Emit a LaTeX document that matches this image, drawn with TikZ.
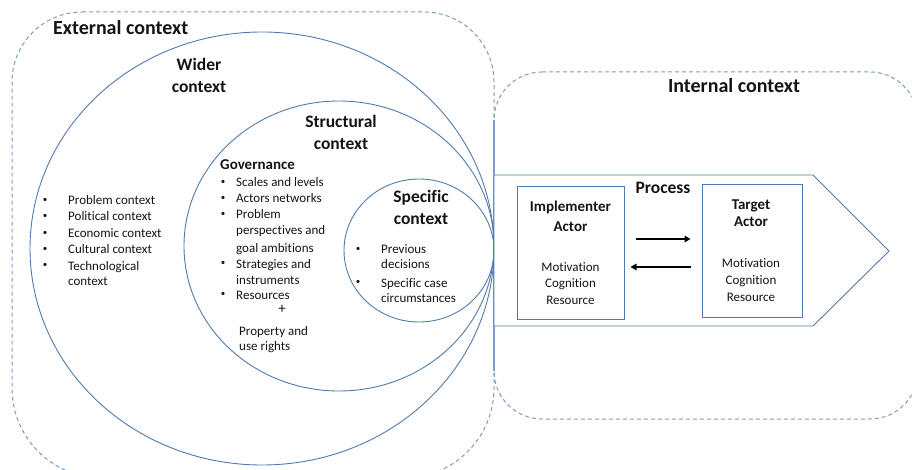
\documentclass[tikz,border=0pt]{standalone}
\usepackage{fontspec}
\setmainfont[Ligatures=NoCommon]{Carlito}
\usetikzlibrary{arrows.meta}
\definecolor{lineblue}{RGB}{80,122,172}
\definecolor{dashblue}{RGB}{125,155,195}
\definecolor{txt}{RGB}{20,20,20}
\begin{document}
\begin{tikzpicture}[x=1pt,y=-1pt,
  solidline/.style={draw=lineblue, line width=0.9pt},
  dashline/.style={draw=dashblue, line width=1pt, dash pattern=on 4pt off 3pt},
  bigtitle/.style={font=\fontsize{20}{24}\selectfont\bfseries, inner sep=0pt, text=txt},
  ctxhead/.style={font=\fontsize{17.5}{21}\selectfont\bfseries, inner sep=0pt, text=txt},
  actorhead/.style={font=\fontsize{15}{18}\selectfont\bfseries, inner sep=0pt, text=txt},
  item/.style={font=\fontsize{13}{16}\selectfont, inner sep=0pt, text=txt},
  dot/.style={font=\fontsize{9}{9}\selectfont, inner sep=0pt, text=txt},
  actorbox/.style={draw=lineblue, line width=1pt, fill=white, inner sep=0pt},
  flow/.style={draw=black, line width=2pt, -{Triangle[length=6pt,width=6.5pt]}}]
\useasboundingbox (0,0) rectangle (912,470);
\clip (0,0) rectangle (912,470);

% external context frame
\draw[dashline] (82,12) -- (424,12) arc[start angle=270, end angle=360, radius=70]
  -- (494,388) arc[start angle=0, end angle=90, radius=90]
  -- (102,478) arc[start angle=90, end angle=180, radius=90]
  -- (12,82) arc[start angle=180, end angle=270, radius=70] -- cycle;
% internal context frame
\draw[dashline] (542,72) -- (870,72) arc[start angle=270, end angle=360, radius=48]
  -- (918,371) arc[start angle=0, end angle=90, radius=48]
  -- (542,419) arc[start angle=90, end angle=180, radius=48]
  -- (494,120) arc[start angle=180, end angle=270, radius=48] -- cycle;
\draw[draw=dashblue, line width=1.2pt] (494,120) -- (494,371);

% context circles
\draw[solidline] (262,248.5) ellipse [x radius=232, y radius=216.5];
\draw[solidline] (339,246) ellipse [x radius=155, y radius=145];
\draw[solidline] (419,250.5) ellipse [x radius=75, y radius=71.5];

% process arrow
\draw[solidline, fill=white] (494,175) -- (813,175) -- (889,251) -- (813,326) -- (494,326) -- cycle;

% actor boxes
\node[actorbox, minimum width=107, minimum height=132] (impl) at (570.5,253) {};
\node[actorbox, minimum width=100, minimum height=132] (target) at (752,251) {};
\draw[flow] ([xshift=11pt,yshift=14pt]impl.east) -- ([xshift=-11pt,yshift=12pt]target.west);
\draw[flow] ([xshift=-11pt,yshift=-16pt]target.west) -- ([xshift=6pt,yshift=-14pt]impl.east);

% titles
\node[bigtitle, anchor=base west] (ext) at (53,35) {External context};
\node[bigtitle, anchor=base] (int) at (734,93) {Internal context};
\node[ctxhead, anchor=base] (wid1) at (199,71) {Wider};
\node[ctxhead, anchor=base] (wid2) at (199,93) {context};
\node[ctxhead, anchor=base] (str1) at (341,128) {Structural};
\node[ctxhead, anchor=base] (str2) at (341,150) {context};
\node[ctxhead, anchor=base] (spe1) at (421,203) {Specific};
\node[ctxhead, anchor=base] (spe2) at (421,225) {context};
\node[ctxhead, anchor=base] (proc) at (663,194) {Process};

% wider context list
\foreach \t/\y [count=\i] in {Problem context/205, Political context/221, Economic context/238, Cultural context/254, Technological/270} {
  \node[item, anchor=base west] (wl\i) at (68,\y) {\t};
  \node[dot] (wb\i) at (45,\y-4.5) {\textbullet};
}
\node[item, anchor=base west] (wl6) at (68,285) {context};

% governance
\node[actorhead, anchor=base west] (gov) at (220,170) {Governance};
\foreach \y [count=\i] in {187, 203, 219, 268, 299} {
  \node[dot] (gb\i) at (223,\y-4.5) {\textbullet};
}
\foreach \t/\y [count=\i] in {Scales and levels/187, Actors networks/203, Problem/219, perspectives and/235, goal ambitions/252, Strategies and/268, instruments/284, Resources/299} {
  \node[item, anchor=base west] (gl\i) at (236,\y) {\t};
}
\node[item, font=\fontsize{15}{18}\selectfont] (plus) at (282,309) {+};
\node[item, anchor=base west] (prop1) at (239,335) {Property and};
\node[item, anchor=base west] (prop2) at (239,350) {use rights};

% specific list
\node[dot] (sb1) at (358,249.5) {\textbullet};
\node[dot] (sb2) at (358,282.5) {\textbullet};
\node[item, anchor=base west] (sl1) at (381,254) {Previous};
\node[item, anchor=base west] (sl2) at (381,269) {decisions};
\node[item, anchor=base west] (sl3) at (381,287) {Specific case};
\node[item, anchor=base west] (sl4) at (381,302) {circumstances};

% actors
\node[actorhead, anchor=base] (imp1) at (570.5,212) {Implementer};
\node[actorhead, anchor=base] (imp2) at (570.5,232) {Actor};
\node[item, anchor=base] (imp3) at (570.5,271) {Motivation};
\node[item, anchor=base] (imp4) at (570.5,287) {Cognition};
\node[item, anchor=base] (imp5) at (570.5,304) {Resource};
\node[actorhead, anchor=base] (tar1) at (751,210) {Target};
\node[actorhead, anchor=base] (tar2) at (751,227) {Actor};
\node[item, anchor=base] (tar3) at (751,267) {Motivation};
\node[item, anchor=base] (tar4) at (751,284) {Cognition};
\node[item, anchor=base] (tar5) at (751,301) {Resource};
\end{tikzpicture}
\end{document}
